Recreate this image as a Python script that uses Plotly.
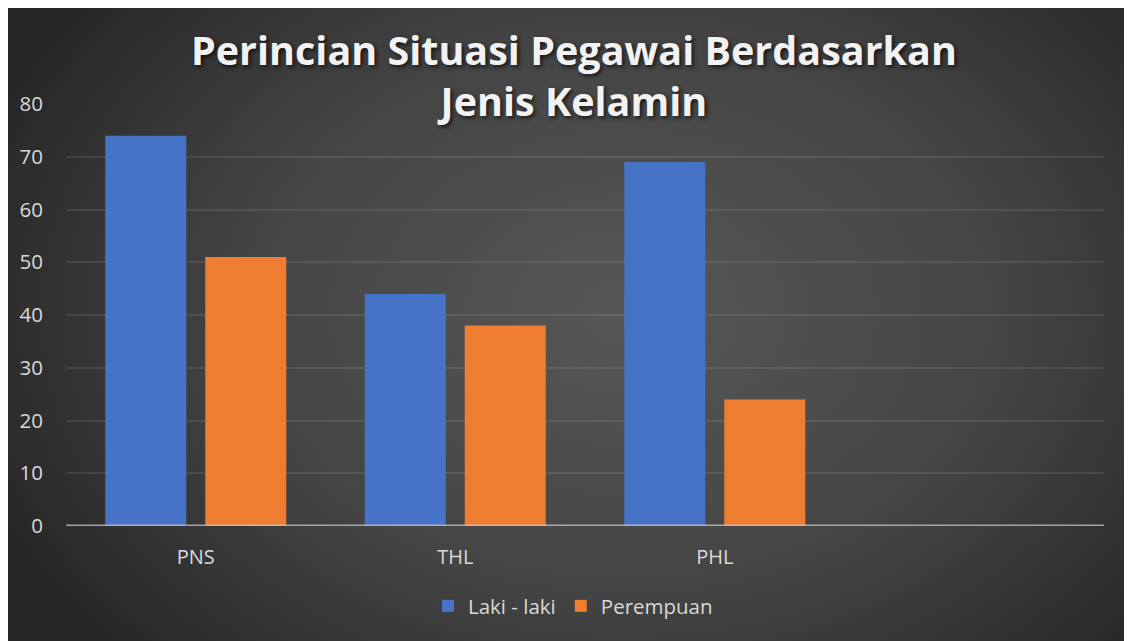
import base64
import plotly.graph_objects as go

categories = ["PNS", "THL", "PHL"]
laki_laki = [74, 44, 69]
perempuan = [51, 38, 24]
series_names = ["Laki - laki", "Perempuan"]
y_ticks = [0, 10, 20, 30, 40, 50, 60, 70, 80]

# page has an 8px body margin; figure coords = page coords - 8
W, H = 1124, 633
ML, MR, MT, MB = 58, 28, 96, 115
PW, PH = W - ML - MR, H - MT - MB

svg = """<svg xmlns='http://www.w3.org/2000/svg' width='1124' height='633' viewBox='0 0 1124 633' preserveAspectRatio='none'>
<defs><radialGradient id='g' cx='0.55' cy='0.48' r='0.62' fx='0.55' fy='0.48' gradientTransform='translate(0.55 0.48) scale(1 1.3) translate(-0.55 -0.48)'>
<stop offset='0' stop-color='#575757'/><stop offset='0.55' stop-color='#444444'/><stop offset='1' stop-color='#262626'/>
</radialGradient></defs>
<rect width='1124' height='633' fill='url(#g)'/></svg>"""
bg_uri = "data:image/svg+xml;base64," + base64.b64encode(svg.encode()).decode()

fig = go.Figure()
fig.add_trace(go.Bar(x=categories, y=laki_laki, name=series_names[0],
                     marker=dict(color="#4673C6", line=dict(width=0))))
fig.add_trace(go.Bar(x=categories, y=perempuan, name=series_names[1],
                     marker=dict(color="#EE7C31", line=dict(width=0))))

fig.add_layout_image(dict(
    source=bg_uri, xref="paper", yref="paper",
    x=-ML / PW, y=(H - MB) / PH,
    sizex=W / PW, sizey=H / PH,
    xanchor="left", yanchor="top", sizing="stretch", layer="below"))

fig.update_layout(
    width=W, height=H,
    margin=dict(l=ML, r=MR, t=MT, b=MB, pad=0),
    paper_bgcolor="#333333", plot_bgcolor="rgba(0,0,0,0)",
    barmode="group", bargap=0.229, bargroupgap=0.19,
    font=dict(family="Open Sans", color="#d9d9d9", size=20),
    title=dict(text="Perincian Situasi Pegawai Berdasarkan<br>Jenis Kelamin",
               x=550 / W, xanchor="center", xref="paper",
               y=1 - 57 / H, yanchor="top", yref="container",
               font=dict(family="Open Sans", size=39.5, weight="bold", color="#f2f2f2",
                         shadow="2px 2px 4px rgba(0,0,0,0.7)")),
    showlegend=True,
    legend=dict(orientation="h", x=565 / W, xanchor="center", xref="container",
                y=(H - 598) / H, yanchor="middle", yref="container",
                font=dict(size=20.5, color="#d9d9d9"), itemwidth=30,
                bgcolor="rgba(0,0,0,0)", traceorder="normal"),
    xaxis=dict(type="category", range=[-0.5, 3.5], showgrid=False,
               showline=False, zeroline=False, ticks="", ticklabelstandoff=17,
               tickfont=dict(size=20, color="#d9d9d9"), fixedrange=True),
    yaxis=dict(range=[0, 80], tickvals=y_ticks, showgrid=True,
               gridcolor="rgba(255,255,255,0.09)", gridwidth=2,
               zeroline=False, showline=False, ticks="", ticklabelstandoff=22,
               tickfont=dict(size=20.5, color="#d9d9d9"), fixedrange=True),
)

fig.add_shape(type="line", xref="paper", yref="y", x0=0, x1=1, y0=0, y1=0,
              line=dict(color="rgba(200,200,200,0.75)", width=3), layer="above")

fig.write_html("out.html")
